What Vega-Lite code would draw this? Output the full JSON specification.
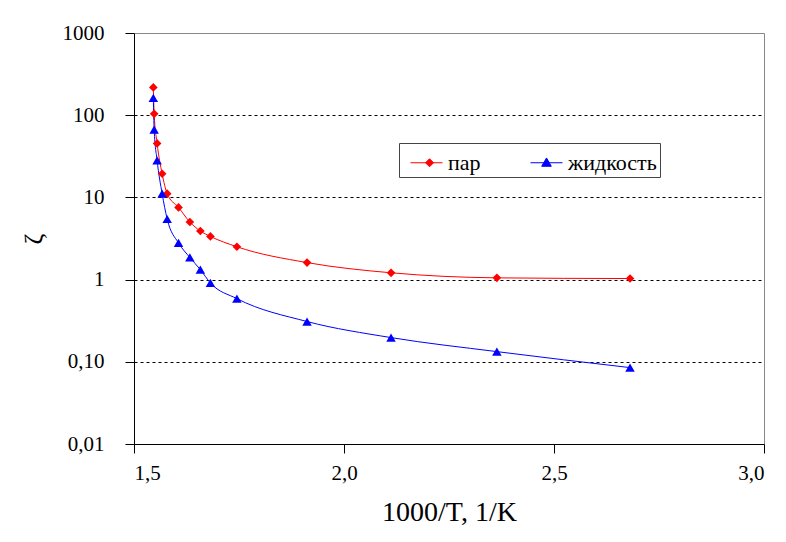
{
  "$schema": "https://vega.github.io/schema/vega-lite/v6.json",
  "width": 630,
  "height": 411,
  "autosize": "none",
  "padding": {"left": 134, "top": 33, "right": 22, "bottom": 98},
  "background": "white",
  "config": {
    "font": "Liberation Serif",
    "view": {"stroke": "#888888", "strokeWidth": 1},
    "axis": {"labelFont": "Liberation Serif", "titleFont": "Liberation Serif", "labelColor": "black", "titleColor": "black", "titleFontWeight": "normal", "domainColor": "black", "tickColor": "black", "tickSize": 9},
    "legend": {"strokeColor": "#444444", "fillColor": "white", "labelFont": "Liberation Serif"}
  },
  "data": {
    "values": [
      {"x": 1.546, "y": 218, "s": "пар"},
      {"x": 1.548, "y": 104, "s": "пар"},
      {"x": 1.555, "y": 45.4, "s": "пар"},
      {"x": 1.567, "y": 19.4, "s": "пар"},
      {"x": 1.579, "y": 11.1, "s": "пар"},
      {"x": 1.606, "y": 7.56, "s": "пар"},
      {"x": 1.633, "y": 5.02, "s": "пар"},
      {"x": 1.658, "y": 3.9, "s": "пар"},
      {"x": 1.682, "y": 3.35, "s": "пар"},
      {"x": 1.745, "y": 2.51, "s": "пар"},
      {"x": 1.912, "y": 1.61, "s": "пар"},
      {"x": 2.112, "y": 1.21, "s": "пар"},
      {"x": 2.364, "y": 1.05, "s": "пар"},
      {"x": 2.681, "y": 1.03, "s": "пар"},
      {"x": 1.546, "y": 162, "s": "жидкость"},
      {"x": 1.548, "y": 66.6, "s": "жидкость"},
      {"x": 1.555, "y": 28.2, "s": "жидкость"},
      {"x": 1.567, "y": 11.1, "s": "жидкость"},
      {"x": 1.579, "y": 5.46, "s": "жидкость"},
      {"x": 1.606, "y": 2.79, "s": "жидкость"},
      {"x": 1.633, "y": 1.86, "s": "жидкость"},
      {"x": 1.658, "y": 1.32, "s": "жидкость"},
      {"x": 1.682, "y": 0.91, "s": "жидкость"},
      {"x": 1.745, "y": 0.587, "s": "жидкость"},
      {"x": 1.912, "y": 0.309, "s": "жидкость"},
      {"x": 2.112, "y": 0.197, "s": "жидкость"},
      {"x": 2.364, "y": 0.133, "s": "жидкость"},
      {"x": 2.681, "y": 0.085, "s": "жидкость"}
    ]
  },
  "encoding": {
    "x": {
      "field": "x", "type": "quantitative",
      "scale": {"domain": [1.5, 3.0], "nice": false, "zero": false},
      "axis": {
        "title": "1000/T, 1/K", "titleFont": "Liberation Serif", "titleFontSize": 28, "titlePadding": 15,
        "values": [1.5, 2.0, 2.5, 3.0], "grid": false,
        "labelFont": "Liberation Serif", "labelFontSize": 21, "labelPadding": 9,
        "labelExpr": "replace(format(datum.value, '.1f'), '.', ',')"
      }
    },
    "y": {
      "field": "y", "type": "quantitative",
      "scale": {"type": "log", "domain": [0.01, 1000], "nice": false},
      "axis": {
        "title": "ζ", "titleFont": "Liberation Serif", "titleFontSize": 26, "titlePadding": 16,
        "values": [0.01, 0.1, 1, 10, 100, 1000],
        "labelFont": "Liberation Serif", "labelFontSize": 21, "labelPadding": 21,
        "labelExpr": "datum.value < 0.05 ? '0,01' : datum.value < 0.5 ? '0,10' : format(datum.value, 'd')",
        "grid": true, "gridColor": "black", "gridDash": [3, 3], "gridWidth": 1,
        "gridOpacity": {"condition": {"test": "datum.value < 0.05 || datum.value > 500", "value": 0}, "value": 1}
      }
    },
    "color": {
      "field": "s", "type": "nominal",
      "scale": {"domain": ["пар", "жидкость"], "range": ["#ff0000", "#0000ff"]},
      "legend": {
        "title": null, "orient": "none", "direction": "horizontal",
        "legendX": 265, "legendY": 110,
        "fillColor": "white", "strokeColor": "#444444", "padding": 3,
        "symbolSize": 1024, "symbolStrokeWidth": 1,
        "labelFont": "Liberation Serif", "labelFontSize": 22, "labelColor": "black",
        "labelOffset": 13, "columnPadding": 41, "labelLimit": 250,
        "labelExpr": "datum.label === 'жидкость' ? datum.label + '\u00a0\u00a0\u00a0\u00a0' : datum.label",
        "symbolType": "M-0.5,0L1.5,0",
        "encode": {
          "symbols": {
            "update": {
              "shape": {"signal": "datum.value === 'пар' ? 'M-0.5,0L1.5,0M0.69,-0.25L0.94,0L0.69,0.25L0.44,0Z' : 'M-0.5,0L1.5,0M0.5,-0.3L0.8,0.22L0.2,0.22Z'"},
              "fill": {"signal": "datum.value === 'пар' ? '#ff0000' : '#0000ff'"},
              "stroke": {"signal": "datum.value === 'пар' ? '#ff0000' : '#0000ff'"},
              "strokeWidth": {"value": 1},
              "opacity": {"value": 1}
            }
          }
        }
      }
    }
  },
  "layer": [
    {
      "mark": {"type": "line", "interpolate": "monotone", "strokeWidth": 1}
    },
    {
      "transform": [{"filter": "datum.s === 'пар'"}],
      "mark": {"type": "point", "filled": true, "opacity": 1, "size": 75, "shape": "diamond"}
    },
    {
      "transform": [{"filter": "datum.s === 'жидкость'"}],
      "mark": {"type": "point", "filled": true, "opacity": 1, "size": 90, "shape": "triangle-up"}
    }
  ]
}
